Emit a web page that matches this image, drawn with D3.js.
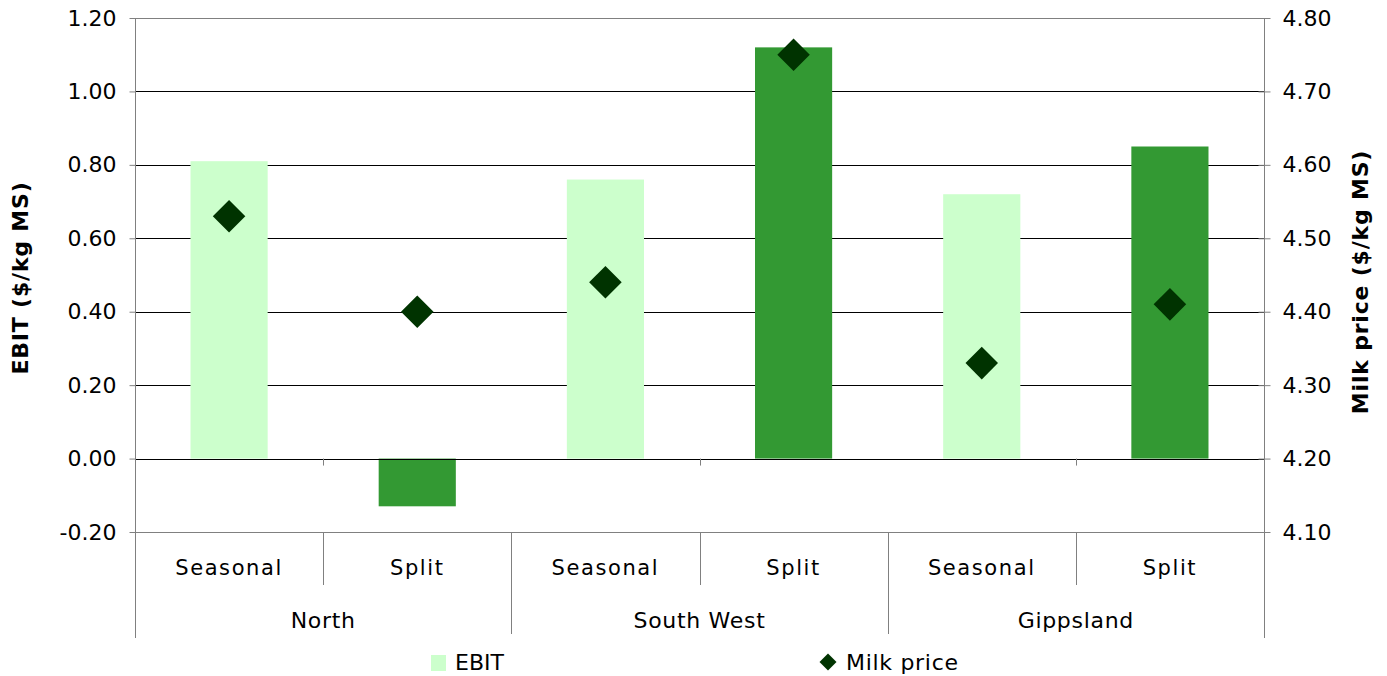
<!DOCTYPE html>
<html><head><meta charset="utf-8">
<script src="https://cdn.jsdelivr.net/npm/d3@7"></script>
<style>body{margin:0;background:#fff}svg{display:block}text{font-family:"DejaVu Sans",sans-serif;fill:#000}</style>
</head><body><svg id="c" width="1387" height="676"></svg>
<script>
const groups = ["North","South West","Gippsland"];
const systems = ["Seasonal","Split"];
const ebit = [0.81,-0.13,0.76,1.12,0.72,0.85];
const milkPrice = [4.53,4.40,4.44,4.75,4.33,4.41];
const leftTicks = [-0.20,0.00,0.20,0.40,0.60,0.80,1.00,1.20];
const rightTicks = [4.10,4.20,4.30,4.40,4.50,4.60,4.70,4.80];
const barColors = {"Seasonal":"#ccffcc","Split":"#339933"};

const rows = [];
groups.forEach((g,gi)=>systems.forEach((s,si)=>{const i=gi*2+si;rows.push({key:g+"|"+s,group:g,system:s,ebit:ebit[i],milk:milkPrice[i]});}));

const svg = d3.select("#c");
const L=135,R=1264,T=18,B=532;
const x = d3.scaleBand().domain(rows.map(d=>d.key)).range([L,R]).paddingInner(0).paddingOuter(0);
const yL = d3.scaleLinear().domain([-0.2,1.2]).range([B,T]);
const yR = d3.scaleLinear().domain([4.1,4.8]).range([B,T]);

// gridlines
svg.append("g").selectAll("line").data(leftTicks).join("line")
  .attr("x1",L).attr("x2",R).attr("y1",d=>Math.round(yL(d))+0.5).attr("y2",d=>Math.round(yL(d))+0.5)
  .attr("stroke",d=>(d===1.2||d===-0.2)?"#808080":"#000").attr("stroke-width",1);

// bars
const bw = x.bandwidth()*0.41;
svg.append("g").selectAll("rect").data(rows).join("rect")
  .attr("x",d=>x(d.key)+x.bandwidth()/2-bw/2).attr("width",bw)
  .attr("y",d=>yL(Math.max(0,d.ebit))).attr("height",d=>Math.abs(yL(d.ebit)-yL(0)))
  .attr("fill",d=>barColors[d.system]);

// zero line on top
svg.append("line").attr("x1",L).attr("x2",R).attr("y1",Math.round(yL(0))+0.5).attr("y2",Math.round(yL(0))+0.5).attr("stroke","#000");

// category separators
const sep = svg.append("g").attr("stroke","#808080").attr("stroke-width",1);
rows.forEach((d,i)=>{
  const xx = Math.round(x(d.key))+0.5;
  if(i%2===1){
    sep.append("line").attr("x1",xx).attr("x2",xx).attr("y1",yL(0)).attr("y2",yL(0)+7);
    sep.append("line").attr("x1",xx).attr("x2",xx).attr("y1",B).attr("y2",585);
  } else if(i>0){
    sep.append("line").attr("x1",xx).attr("x2",xx).attr("y1",B).attr("y2",634);
  }
});

// axes
const fmt = d=>d.toFixed(2);
const axL = svg.append("g").attr("transform",`translate(${L+0.5},0)`)
  .call(d3.axisLeft(yL).tickValues(leftTicks).tickFormat(fmt).tickSize(6).tickPadding(10));
const axR = svg.append("g").attr("transform",`translate(${R+0.5},0)`)
  .call(d3.axisRight(yR).tickValues(rightTicks).tickFormat(fmt).tickSize(6).tickPadding(10));
[axL,axR].forEach(a=>{
  a.select(".domain").remove();
  a.selectAll(".tick line").attr("stroke","#808080");
  a.selectAll(".tick text").attr("font-size",22).style("font-family","DejaVu Sans");
});
axR.selectAll(".tick line").attr("x1",-6);
axR.selectAll(".tick text").attr("x",18);
axL.selectAll(".tick text").attr("x",-19);
svg.append("line").attr("x1",L+0.5).attr("x2",L+0.5).attr("y1",T).attr("y2",638).attr("stroke","#808080");
svg.append("line").attr("x1",R+0.5).attr("x2",R+0.5).attr("y1",T).attr("y2",638).attr("stroke","#808080");

// category labels
svg.append("g").selectAll("text").data(rows).join("text")
  .attr("x",d=>x(d.key)+x.bandwidth()/2).attr("y",575).attr("text-anchor","middle")
  .attr("font-size",21).attr("letter-spacing",1.6).text(d=>d.system);
svg.append("g").selectAll("text").data(groups).join("text")
  .attr("x",(g,i)=>(x(rows[i*2].key)+x(rows[i*2+1].key)+x.bandwidth())/2).attr("y",628).attr("text-anchor","middle")
  .attr("font-size",22).attr("letter-spacing",0.7).text(g=>g);

// diamonds
const dsym = d3.symbol().type(d3.symbolSquare).size(23*23);
svg.append("g").selectAll("path").data(rows).join("path")
  .attr("d",dsym).attr("fill","#003300")
  .attr("transform",d=>`translate(${x(d.key)+x.bandwidth()/2},${yR(d.milk)}) rotate(45)`);

// axis titles
svg.append("text").attr("transform","translate(28,278) rotate(-90)").attr("text-anchor","middle")
  .attr("font-size",22).attr("font-weight","bold").attr("letter-spacing",0.8).text("EBIT ($/kg MS)");
svg.append("text").attr("transform","translate(1368,282) rotate(-90)").attr("text-anchor","middle")
  .attr("font-size",22).attr("font-weight","bold").attr("letter-spacing",0.8).text("Milk price ($/kg MS)");

// legend
svg.append("rect").attr("x",431).attr("y",655).attr("width",15).attr("height",16).attr("fill","#ccffcc");
svg.append("text").attr("x",455).attr("y",670).attr("font-size",22).text("EBIT");
svg.append("path").attr("d",d3.symbol().type(d3.symbolSquare).size(12*12)).attr("fill","#003300")
  .attr("transform","translate(828,662) rotate(45)");
svg.append("text").attr("x",846).attr("y",670).attr("font-size",22).attr("letter-spacing",0.7).text("Milk price");
</script></body></html>
